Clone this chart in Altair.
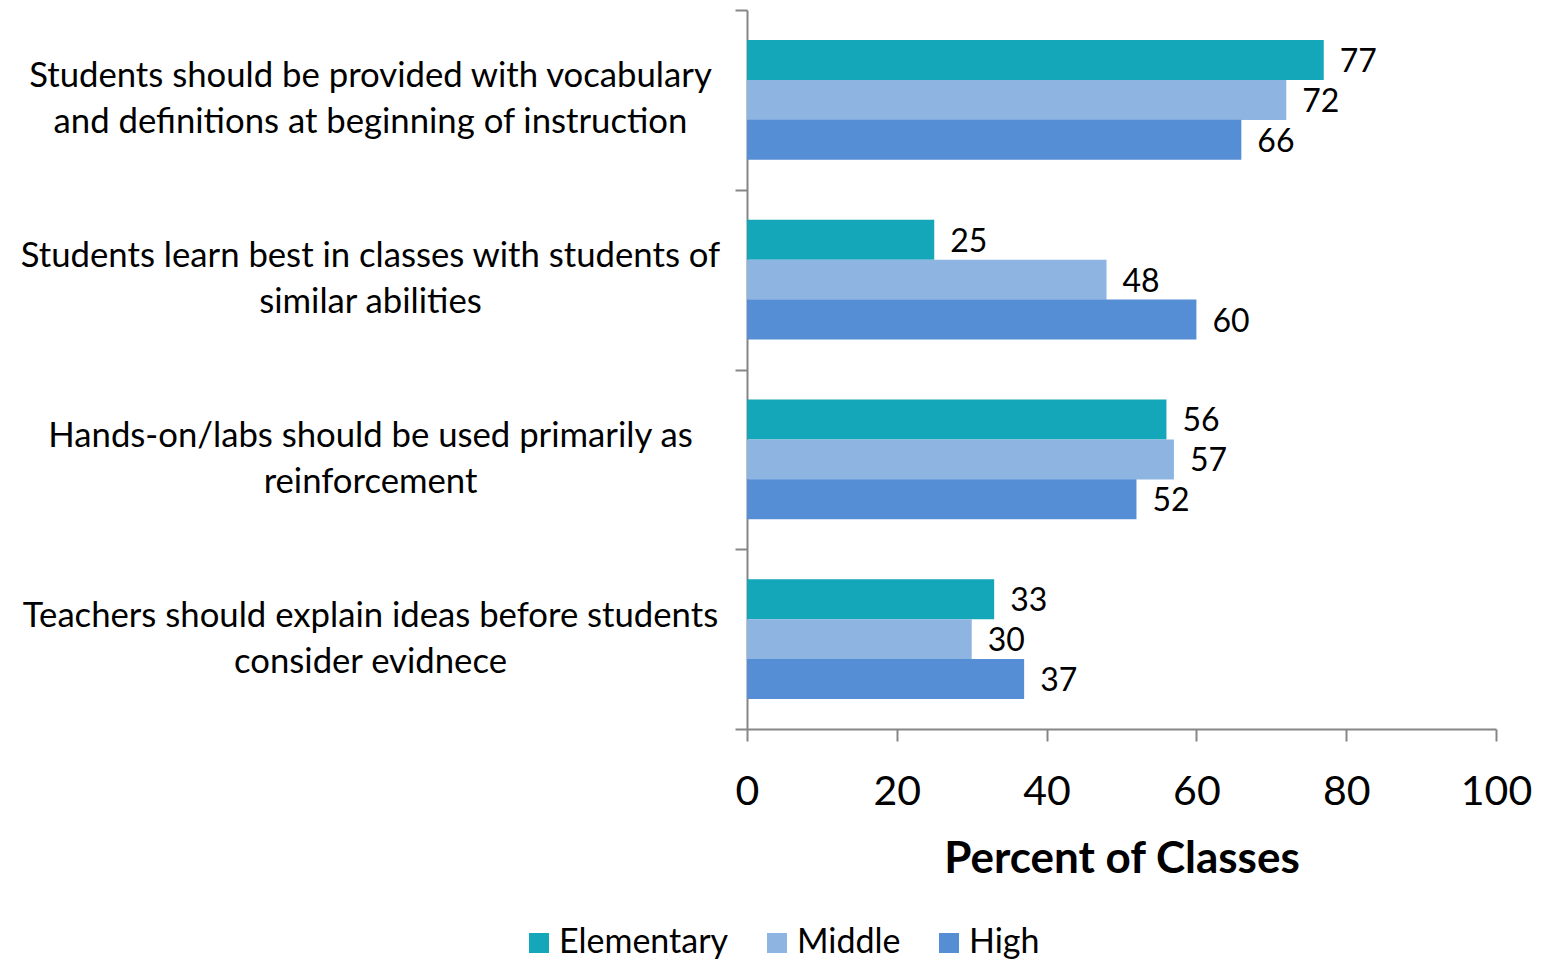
import altair as alt
import pandas as pd

statements = [
    "Students should be provided with vocabulary|and definitions at beginning of instruction",
    "Students learn best in classes with students of|similar abilities",
    "Hands-on/labs should be used primarily as|reinforcement",
    "Teachers should explain ideas before students|consider evidnece",
]
levels = ["Elementary", "Middle", "High"]
elementary = [77, 25, 56, 33]
middle = [72, 48, 57, 30]
high = [66, 60, 52, 37]
colors = ["#14A6B9", "#8EB4E2", "#558ED5"]

rows = []
for i, s in enumerate(statements):
    for lvl, vals in zip(levels, [elementary, middle, high]):
        rows.append({"statement": s, "level": lvl, "value": vals[i]})
df = pd.DataFrame(rows)

FONT = "Lato"

y_enc = alt.Y(
    "statement:N",
    sort=statements,
    scale=alt.Scale(paddingInner=0, paddingOuter=0),
    axis=alt.Axis(
        title=None,
        labelExpr="split(datum.label, '|')",
        labelAlign="center",
        labelBaseline="middle",
        labelPadding=365,
        labelOffset=-23,
        labelLineHeight=46,
        labelFontSize=34.7,
        labelFont=FONT,
        labelColor="#000000",
        labelLimit=1000,
        tickBand="extent",
        tickSize=12,
        tickColor="#868686",
        tickWidth=2,
        domainColor="#868686",
        domainWidth=2,
        labelOverlap=False,
    ),
)
yoff = alt.YOffset("level:N", sort=levels, scale=alt.Scale(paddingInner=0, paddingOuter=0.75))
x_enc = alt.X(
    "value:Q",
    scale=alt.Scale(domain=[0, 100], nice=False),
    axis=alt.Axis(
        title="Percent of Classes",
        values=[0, 20, 40, 60, 80, 100],
        grid=False,
        labelFlush=False,
        labelFontSize=41,
        labelFont=FONT,
        labelColor="#000000",
        labelPadding=31,
        tickSize=12,
        tickColor="#868686",
        tickWidth=2,
        domainColor="#868686",
        domainWidth=2,
        titleFont=FONT,
        titleFontSize=44,
        titleFontWeight="bold",
        titleColor="#000000",
        titlePadding=25,
    ),
)

bars = alt.Chart(df).mark_bar(size=40).encode(
    x=x_enc,
    y=y_enc,
    yOffset=yoff,
    color=alt.Color(
        "level:N",
        sort=levels,
        scale=alt.Scale(domain=levels, range=colors),
        legend=alt.Legend(
            title=None,
            orient="none",
            direction="horizontal",
            legendX=-225,
            legendY=916,
            symbolType="square",
            symbolSize=400,
            symbolStrokeWidth=0,
            symbolOpacity=1,
            labelFontSize=34,
            labelFont=FONT,
            labelColor="#000000",
            labelLimit=600,
            columnPadding=31,
            labelOffset=3,
        ),
    ),
)

labels = alt.Chart(df).mark_text(
    align="left", baseline="middle", dx=16, dy=2, fontSize=32, font=FONT, color="#000000"
).encode(
    x="value:Q",
    y=alt.Y("statement:N", sort=statements),
    yOffset=alt.YOffset("level:N", sort=levels),
    text="value:Q",
)

chart = (
    alt.layer(bars, labels)
    .properties(
        width=749,
        height=719,
        autosize=alt.AutoSizeParams(type="none"),
        padding={"left": 739, "top": 2, "right": 40, "bottom": 232},
    )
    .configure_view(stroke=None)
)

chart.save("out.html", embed_options={"renderer": "svg", "actions": False})
